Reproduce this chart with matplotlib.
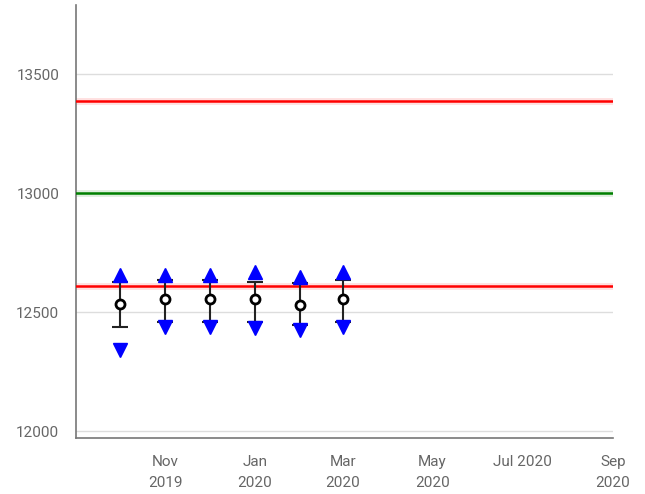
import matplotlib
matplotlib.use("Agg")
import matplotlib.pyplot as plt
import matplotlib.dates as mdates
import numpy as np
import datetime as dt

# monthly measurements
dates = [dt.date(2019, 10, 1), dt.date(2019, 11, 1), dt.date(2019, 12, 1),
         dt.date(2020, 1, 1), dt.date(2020, 2, 1), dt.date(2020, 3, 1)]
mean = [12534, 12557, 12557, 12553, 12529, 12553]
err_hi = [12626, 12634, 12634, 12626, 12622, 12634]
err_lo = [12437, 12458, 12458, 12458, 12445, 12458]
up_mark = [12655, 12655, 12655, 12668, 12647, 12668]
down_mark = [12340, 12437, 12437, 12433, 12424, 12437]

target = 13000
upper_limit = 13387
lower_limit = 12609

tick_dates = [dt.date(2019, 11, 1), dt.date(2020, 1, 1), dt.date(2020, 3, 1),
              dt.date(2020, 5, 1), dt.date(2020, 7, 1), dt.date(2020, 9, 1)]
tick_labels = ["Nov\n2019", "Jan\n2020", "Mar\n2020", "May\n2020", "Jul 2020", "Sep\n2020"]
yticks = [12000, 12500, 13000, 13500]

plt.rcParams['font.family'] = ['Roboto', 'DejaVu Sans']

fig = plt.figure(figsize=(6.45, 4.94), dpi=100)
ax = fig.add_axes([76/645, 1 - 438/494, (613-76)/645, (438-5)/494])

x = mdates.date2num(dates)

# control lines with soft glow
for y, c in [(upper_limit, 'red'), (target, 'green'), (lower_limit, 'red')]:
    ax.axhline(y, color=c, lw=5, alpha=0.12, zorder=2)
    ax.axhline(y, color=c, lw=1.8, zorder=3)

yerr = [np.array(mean) - np.array(err_lo), np.array(err_hi) - np.array(mean)]
ax.errorbar(x, mean, yerr=yerr, fmt='none', ecolor='#222222', elinewidth=1.5,
            capsize=6, capthick=1.5, zorder=4)
ax.plot(x, up_mark, linestyle='none', marker='^', markersize=10, color='blue', zorder=5)
ax.plot(x, down_mark, linestyle='none', marker='v', markersize=10, color='blue', zorder=5)
ax.plot(x, mean, linestyle='none', marker='o', markersize=6.5, markerfacecolor='white',
        markeredgecolor='black', markeredgewidth=2, zorder=6)

ax.set_xlim(mdates.date2num(dt.date(2019, 9, 1)), mdates.date2num(dt.date(2020, 9, 1)))
ax.set_ylim(11971, 13790)
ax.set_xticks(mdates.date2num(tick_dates))
ax.set_xticklabels(tick_labels, linespacing=1.65, va='top')
ax.set_yticks(yticks)
ax.set_yticklabels([str(v) for v in yticks])
ax.tick_params(length=0, colors='#666666', labelsize=11)
ax.tick_params(axis='x', pad=12)
ax.tick_params(axis='y', pad=12)
ax.grid(axis='y', color='#dddddd', lw=1, zorder=0)
ax.set_axisbelow(True)
for s in ['top', 'right']:
    ax.spines[s].set_visible(False)
for s in ['left', 'bottom']:
    ax.spines[s].set_color('#777777')
    ax.spines[s].set_linewidth(1.2)

fig.savefig('out.png', dpi=100)
